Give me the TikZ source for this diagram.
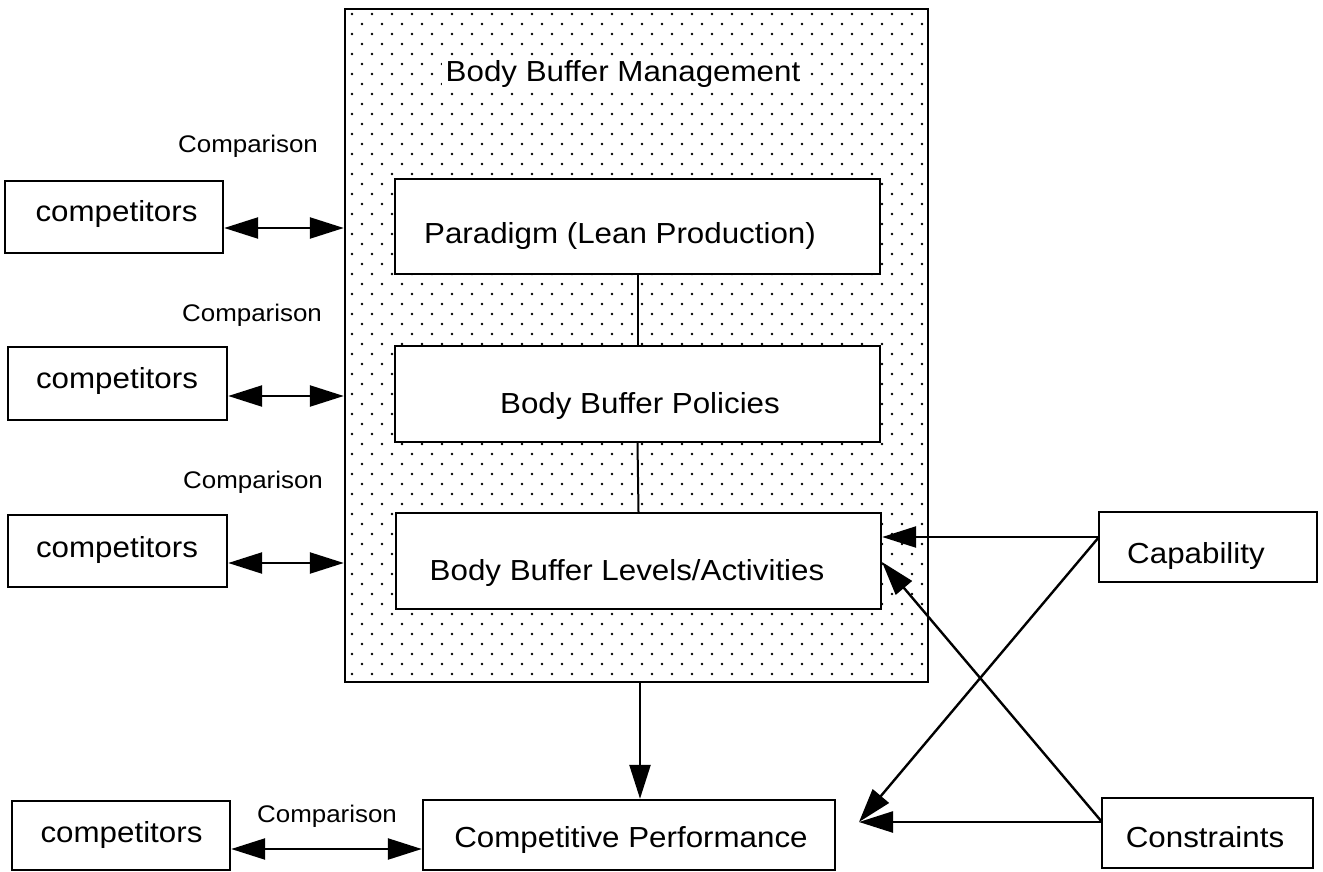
\documentclass[tikz,border=0pt]{standalone}
\usepackage{fontspec}
\setmainfont[FakeStretch=1.08]{Liberation Sans}
\usetikzlibrary{arrows.meta}
\begin{document}
\begin{tikzpicture}[x=1pt,y=-1pt,
 box/.style={draw, line width=2.4pt, fill=white, inner sep=0pt},
 txt/.style={font=\fontsize{29}{34}\selectfont, anchor=base, inner sep=0pt},
 cmp/.style={font=\fontsize{24}{28}\selectfont, anchor=base, inner sep=0pt},
 arr/.style={line width=2.4pt, -{Triangle[length=34pt,width=21pt]}},
 darr/.style={line width=2.4pt, {Triangle[length=34pt,width=21pt]}-{Triangle[length=34pt,width=21pt]}},
 link/.style={line width=2pt}
 ]
\useasboundingbox (0,0) rectangle (1323,872);
% dots
\foreach \j in {0,...,66}{
  \pgfmathsetmacro\yy{14+10*\j}
  \pgfmathsetmacro\off{10*mod(\j,2)}
  \foreach \i in {0,...,28}{
    \fill (352+\off+20*\i,\yy) circle (1.3);
  }
}
% big box
\node[draw, line width=2.4pt, minimum width=583pt, minimum height=673pt, inner sep=0pt] (bbm) at (636.5,345.5) {};
\node[txt, fill=white, inner sep=4pt] (title) at (623,82) {Body Buffer Management};
% inner boxes
\node[box, minimum width=485pt, minimum height=95pt] (par) at (637.5,226.5) {};
\node[box, minimum width=485pt, minimum height=96pt] (pol) at (637.5,394) {};
\node[box, minimum width=485pt, minimum height=96pt] (lev) at (638.5,561) {};
\node[txt] (tpar) at (620,243) {Paradigm (Lean Production)};
\node[txt] (tpol) at (640,413) {Body Buffer Policies};
\node[txt] (tlev) at (627,580) {Body Buffer Levels/Activities};
\draw[link] (par.south) -- (pol.north);
\draw[link] (pol.south) -- (lev.north);
% competitors
\node[box, minimum width=218pt, minimum height=72pt] (c1) at (114,217) {};
\node[box, minimum width=219pt, minimum height=73pt] (c2) at (117.5,383.5) {};
\node[box, minimum width=219pt, minimum height=72pt] (c3) at (117.5,551) {};
\node[box, minimum width=218pt, minimum height=69pt] (c4) at (121,835.5) {};
\node[txt] (tc1) at (116.5,222) {competitors};
\node[txt] (tc2) at (117,388) {competitors};
\node[txt] (tc3) at (117,557) {competitors};
\node[txt] (tc4) at (121.5,842) {competitors};
\node[cmp] (k1) at (248,153) {Comparison};
\node[cmp] (k2) at (252,321) {Comparison};
\node[cmp] (k3) at (253,488) {Comparison};
\node[cmp] (k4) at (327,822) {Comparison};
% bottom and right boxes
\node[box, minimum width=412pt, minimum height=70pt] (cp) at (629,835) {};
\node[txt] (tcp) at (631,847) {Competitive Performance};
\node[box, minimum width=218pt, minimum height=70pt] (cap) at (1208,547) {};
\node[txt] (tcap) at (1196,563) {Capability};
\node[box, minimum width=211pt, minimum height=70pt] (con) at (1207.5,833) {};
\node[txt] (tcon) at (1205,847) {Constraints};
% ports
\coordinate (capP) at (1099,537);
\coordinate (conP) at (1102,822);
\coordinate (cpT) at (859,822);
\coordinate (levT) at (882,562);
% double arrows
\draw[darr] (c1.east |- 0,228) -- (bbm.west |- 0,228);
\draw[darr] (c2.east |- 0,396) -- (bbm.west |- 0,396);
\draw[darr] (c3.east |- 0,563) -- (bbm.west |- 0,563);
\draw[darr] (c4.east |- 0,849) -- (cp.west |- 0,849);
% main arrows
\draw[arr] (bbm.south -| 640,0) -- (cp.north -| 640,0);
\draw[arr] (capP) -- (lev.east |- capP);
\draw[arr] (capP) -- (cpT);
\draw[arr] (conP) -- (cpT);
\draw[arr] (conP) -- (levT);
\end{tikzpicture}
\end{document}
